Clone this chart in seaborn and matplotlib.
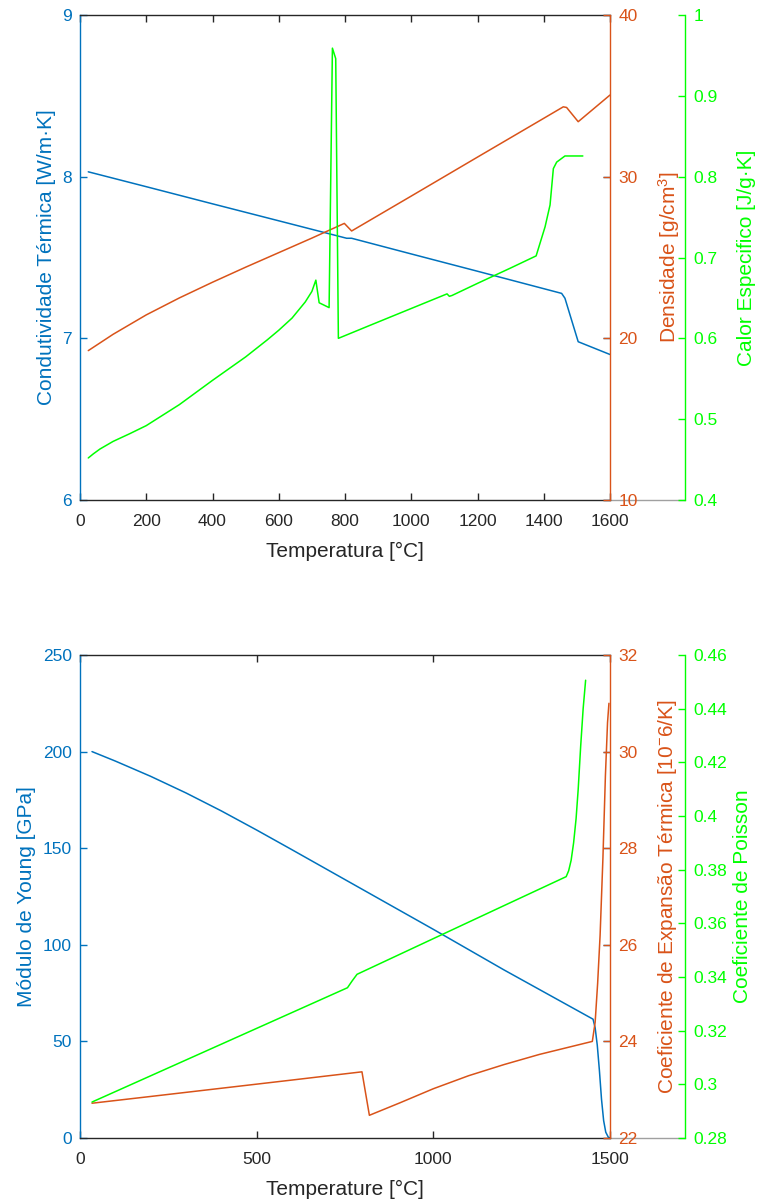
import numpy as np
import pandas as pd
import matplotlib
matplotlib.use('Agg')
import matplotlib.pyplot as plt
import seaborn as sns

# ---- top panel data (Temperatura) ----
t_k = [25, 200, 400, 600, 805, 820, 1000, 1200, 1454, 1464, 1480, 1504, 1600]
cond = [8.03, 7.938, 7.832, 7.727, 7.619, 7.619, 7.522, 7.415, 7.278, 7.248, 7.14, 6.979, 6.90]

t_rho = [25, 100, 200, 300, 400, 500, 600, 700, 798, 820, 1000, 1200, 1400, 1459, 1469, 1504, 1600]
dens = [19.24, 20.25, 21.45, 22.5, 23.47, 24.4, 25.3, 26.2, 27.11, 26.64, 28.8, 31.21, 33.61,
        34.32, 34.28, 33.40, 35.05]

t_cp = [25, 40, 60, 100, 150, 200, 300, 400, 500, 565, 600, 640, 680, 700, 712, 722, 752, 762,
        772, 780, 875, 1108, 1115, 1123, 1200, 1300, 1377, 1404, 1419, 1429, 1439, 1464, 1518]
cp = [0.452, 0.457, 0.463, 0.4725, 0.482, 0.492, 0.518, 0.548, 0.577, 0.598, 0.610, 0.625,
      0.645, 0.658, 0.672, 0.644, 0.638, 0.959, 0.946, 0.600, 0.616, 0.655, 0.652, 0.653, 0.668,
      0.687, 0.702, 0.738, 0.765, 0.810, 0.818, 0.8256, 0.8256]

# ---- bottom panel data (Temperature) ----
t_e = [34, 100, 200, 300, 400, 500, 600, 800, 1000, 1200, 1452, 1458, 1464, 1470, 1476, 1482,
       1488, 1495, 1500]
young = [200, 195.1, 187.2, 178.6, 169.3, 159.4, 149.2, 128.6, 108, 87, 61.5, 57, 48, 35, 20, 9,
         3, 0.5, 0]

t_a = [34, 200, 400, 600, 798, 819, 906, 1000, 1100, 1200, 1300, 1450, 1458, 1465, 1472, 1480,
       1487, 1493, 1497]
cte = [22.72, 22.86, 23.03, 23.20, 23.37, 22.47, 22.73, 23.02, 23.29, 23.52, 23.73, 24.0, 24.4,
       25.2, 26.2, 27.8, 29.5, 30.6, 31.0]

t_nu = [34, 757, 770, 784, 1000, 1200, 1376, 1383, 1390, 1397, 1404, 1410, 1417, 1424, 1431]
poisson = [0.2934, 0.336, 0.3385, 0.341, 0.3543, 0.3666, 0.3774, 0.3796, 0.3835, 0.390, 0.399,
           0.410, 0.426, 0.440, 0.4506]

# axis ticks / labels
top_xticks = [0, 200, 400, 600, 800, 1000, 1200, 1400, 1600]
top_blue_ticks = [6, 7, 8, 9]
top_orange_ticks = [10, 20, 30, 40]
top_green_ticks = [0.4, 0.5, 0.6, 0.7, 0.8, 0.9, 1.0]
top_green_labels = ['0.4', '0.5', '0.6', '0.7', '0.8', '0.9', '1']

bot_xticks = [0, 500, 1000, 1500]
bot_blue_ticks = [0, 50, 100, 150, 200, 250]
bot_orange_ticks = [22, 24, 26, 28, 30, 32]
bot_green_ticks = [0.28, 0.30, 0.32, 0.34, 0.36, 0.38, 0.40, 0.42, 0.44, 0.46]
bot_green_labels = ['0.28', '0.3', '0.32', '0.34', '0.36', '0.38', '0.4', '0.42', '0.44', '0.46']

BLUE = '#0072BD'
ORANGE = '#D95319'
GREEN = '#00FF00'
DARK = '#262626'

sns.set_theme(style='white')
plt.rcParams['font.family'] = ['Liberation Sans', 'DejaVu Sans']
plt.rcParams['mathtext.fontset'] = 'custom'
plt.rcParams['mathtext.rm'] = 'Liberation Sans'
plt.rcParams['mathtext.it'] = 'Liberation Sans:italic'

fig = plt.figure(figsize=(7.6, 12.04), dpi=100)
W, H = 760, 1204
OFF = 1 + 75 / 530


def panel(rect, xmax, xticks, xlabel, series, ylims, yticks, glabels, ylabels, pads):
    ax = fig.add_axes(rect)
    ax2 = ax.twinx()
    ax3 = ax.twinx()
    axes = [ax, ax2, ax3]
    colors = [BLUE, ORANGE, GREEN]
    for a, (x, y), c in zip(axes, series, colors):
        df = pd.DataFrame({'T': x, 'v': y})
        sns.lineplot(data=df, x='T', y='v', ax=a, color=c, linewidth=1.1,
                     estimator=None, sort=False, legend=False)
    for a in axes:
        a.grid(False)
        for s in a.spines.values():
            s.set_visible(False)
            s.set_linewidth(1.0)
    ax.set_xlim(0, xmax)
    ax.set_xticks(xticks)
    ax.spines['left'].set_visible(True)
    ax.spines['left'].set_color(BLUE)
    for k in ('top', 'bottom'):
        ax.spines[k].set_visible(True)
        ax.spines[k].set_color(DARK)
    ax2.spines['right'].set_visible(True)
    ax2.spines['right'].set_color(ORANGE)
    ax3.spines['right'].set_visible(True)
    ax3.spines['right'].set_color(GREEN)
    ax3.spines['right'].set_position(('axes', OFF))

    for a, lim, tk, c in zip(axes, ylims, yticks, colors):
        a.set_ylim(*lim)
        a.set_yticks(tk)
    ax3.set_yticklabels(glabels)

    ax.tick_params(axis='x', direction='in', top=True, bottom=True, colors=DARK,
                   length=5, width=1, labelsize=12.5, pad=10)
    ax.tick_params(axis='y', direction='in', left=True, right=True, colors=BLUE,
                   length=5, width=1, labelsize=12.5, pad=6)
    ax2.tick_params(axis='y', direction='in', right=True, left=False, colors=ORANGE,
                    length=5, width=1, labelsize=12.5, pad=6)
    ax3.tick_params(axis='y', direction='in', right=True, left=False, colors=GREEN,
                    length=5, width=1, labelsize=12.5, pad=6)

    ax.set_xlabel(xlabel, fontsize=15, color=DARK, labelpad=9.5)
    for a, lab, c, p in zip(axes, ylabels, colors, pads):
        a.set_ylabel(lab, fontsize=15, color=c, labelpad=p)

    # light grey continuation of the x axis up to the third y axis
    ax.plot([1, OFF], [0, 0], transform=ax.transAxes, color='#a0a0a0', lw=1.0,
            clip_on=False)
    return ax


panel([80 / W, (H - 500) / H, 530 / W, 485 / H], 1600, top_xticks, 'Temperatura [°C]',
      [(t_k, cond), (t_rho, dens), (t_cp, cp)],
      [(6, 9), (10, 40), (0.4, 1.0)],
      [top_blue_ticks, top_orange_ticks, top_green_ticks], top_green_labels,
      ['Condutividade Térmica [W/m·K]', 'Densidade [g/cm$^{3}$]', 'Calor Especifico [J/g·K]'],
      [4.5, 13.5, 14])

panel([80 / W, (H - 1138) / H, 530 / W, 483 / H], 1500, bot_xticks, 'Temperature [°C]',
      [(t_e, young), (t_a, cte), (t_nu, poisson)],
      [(0, 250), (22, 32), (0.28, 0.46)],
      [bot_blue_ticks, bot_orange_ticks, bot_green_ticks], bot_green_labels,
      ['Módulo de Young [GPa]', 'Coeficiente de Expansão Térmica [10$^{-}$6/K]',
       'Coeficiente de Poisson'],
      [4.5, 13, 4])

fig.savefig('out.png', dpi=100)
